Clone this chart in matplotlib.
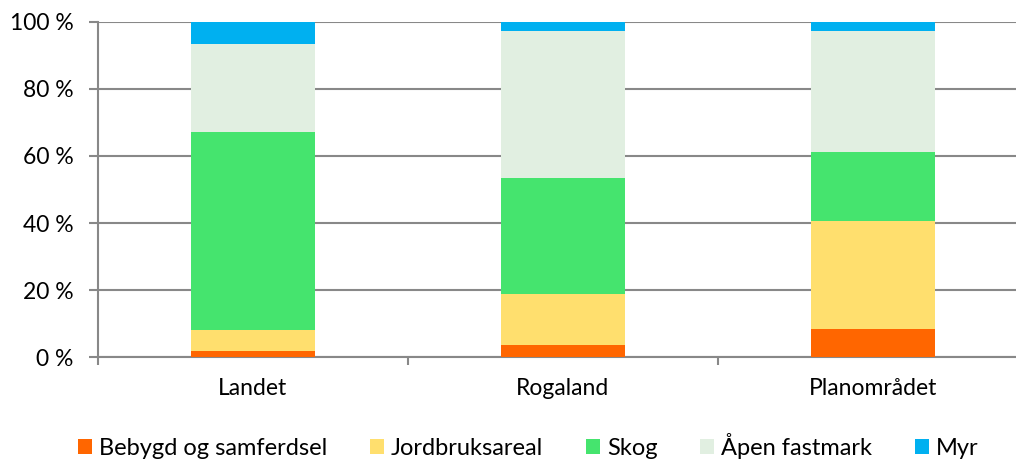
import matplotlib
matplotlib.use("Agg")
import matplotlib.pyplot as plt
import numpy as np

plt.rcParams['font.family'] = ['Lato', 'DejaVu Sans']

# data (percent of area)
regions = ['Landet', 'Rogaland', 'Planområdet']
classes = ['Bebygd og samferdsel', 'Jordbruksareal', 'Skog', 'Åpen fastmark', 'Myr']
bebygd = [2.0, 3.7, 8.3]
jordbruk = [6.2, 15.1, 32.2]
skog = [59.0, 34.6, 20.7]
apen = [26.2, 43.9, 36.1]
myr = [6.6, 2.7, 2.7]
colors = ['#FF6600', '#FFDF6E', '#45E46E', '#E1EFE1', '#00B0F0']
yticks = [0, 20, 40, 60, 80, 100]

fig = plt.figure(figsize=(10.16, 4.62), dpi=100)
ax = fig.add_axes([98 / 1016, 1 - 357.3 / 462, 930 / 1016, 335.5 / 462])

x = np.arange(len(regions))
bottom = np.zeros(len(regions))
for name, vals, c in zip(classes, [bebygd, jordbruk, skog, apen, myr], colors):
    ax.bar(x, vals, width=0.4, bottom=bottom, color=c, label=name, zorder=3)
    bottom += np.array(vals)

grey = '#888888'
fs = 16.5
ax.set_xlim(-0.5, 2.5)
ax.set_ylim(0, 100)
ax.set_yticks(yticks)
ax.set_yticklabels([f'{v} %' for v in yticks], fontsize=fs)
ax.yaxis.grid(True, color=grey, linewidth=1.5, zorder=0)
ax.tick_params(axis='y', length=6.5, width=1.5, color=grey, pad=11)

ax.set_xticks([-0.5, 0.5, 1.5, 2.5])
ax.set_xticklabels([])
ax.tick_params(axis='x', which='major', length=6, width=1.5, color=grey)
ax.set_xticks(x, minor=True)
ax.set_xticklabels(regions, minor=True, fontsize=fs)
ax.tick_params(axis='x', which='minor', length=0, pad=15)

for s in ['top', 'right']:
    ax.spines[s].set_visible(False)
for s in ['left', 'bottom']:
    ax.spines[s].set_color(grey)
    ax.spines[s].set_linewidth(1.5)

fig.legend(loc='center', bbox_to_anchor=(0.52, 0.035), ncol=5, frameon=False,
           fontsize=17, handlelength=0.6, handleheight=0.6, handletextpad=0.3,
           columnspacing=1.8)

fig.savefig('out.png', dpi=100)
